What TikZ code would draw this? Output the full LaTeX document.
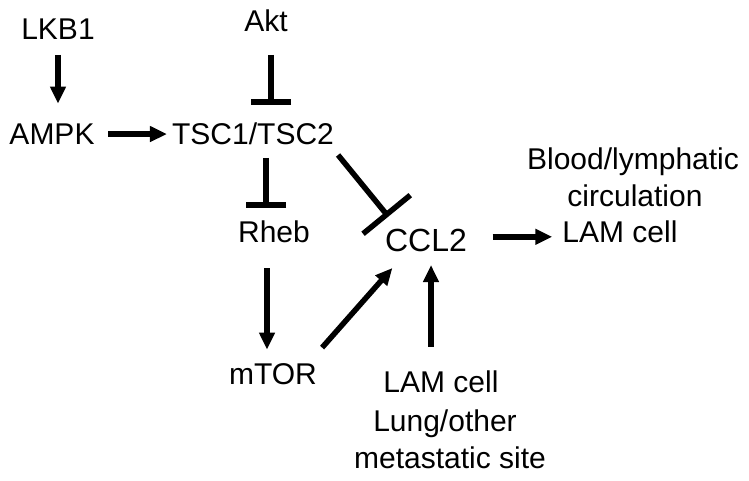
\documentclass[tikz,border=0pt]{standalone}
\usepackage{fontspec}
\setmainfont{Liberation Sans}
\usetikzlibrary{arrows.meta,calc}
\begin{document}
\begin{tikzpicture}[x=1pt,y=-1pt,
  lbl/.style={inner sep=0pt, anchor=south, text height=21.5pt, text depth=0pt, font=\fontsize{30}{36}\selectfont},
  big/.style={inner sep=0pt, anchor=south, text height=23pt, text depth=0pt, font=\fontsize{32}{38}\selectfont},
  act/.style={line width=5.5pt, -{Triangle[length=17pt,width=15pt]}},
  inh/.style={line width=5.5pt, -{Bar[width=40pt]}},
  inhw/.style={line width=5.5pt, -{Bar[width=61pt]}}]
\useasboundingbox (0,0) rectangle (749,481);
\node[lbl] (lkb1) at (58,40) {LKB1};
\node[lbl] (akt) at (266,32) {Akt};
\node[lbl] (ampk) at (52,145) {AMPK};
\node[lbl] (tsc) at (253,145) {TSC1/TSC2};
\node[lbl] (rheb) at (274,243) {Rheb};
\node[lbl] (mtor) at (273,385) {mTOR};
\node[big] (ccl2) at (426,252) {CCL2};
\node[lbl] (r1) at (633,170) {Blood/lymphatic};
\node[lbl] (r2) at (635,207) {circulation};
\node[lbl] (r3) at (620,243) {LAM cell};
\node[lbl] (b1) at (441,393) {LAM cell};
\node[lbl] (b2) at (445,432) {Lung/other};
\node[lbl] (b3) at (450,469) {metastatic site};
% LKB1 -> AMPK
\draw[act, shorten <=15pt, shorten >=19.5pt] (lkb1.south) -- (lkb1.south |- ampk.north);
% Akt -| TSC
\coordinate (at) at ([xshift=5pt]akt.south);
\draw[inh, shorten <=23pt, shorten >=18.5pt] (at) -- (at |- tsc.north);
% AMPK -> TSC
\draw[act, shorten <=13.5pt, shorten >=5pt] (ampk.east) -- (tsc.west);
% TSC -| Rheb
\coordinate (rt) at ([xshift=-8pt]rheb.north);
\draw[inh, shorten <=13pt, shorten >=13.5pt] (rt |- tsc.south) -- (rt);
% Rheb -> mTOR
\coordinate (rb) at ([xshift=-7pt]rheb.south);
\draw[act, shorten <=25pt, shorten >=13.5pt] (rb) -- (rb |- mtor.north);
% mTOR -> CCL2
\draw[act] ($(mtor.north east)+(5,-15.5)$) -- ($(ccl2.south west)+(7.5,16)$);
% TSC -| CCL2
\draw[inhw] ($(tsc.south east)+(4,10)$) -- ($(ccl2.north west)+(3.5,-12)$);
% CCL2 -> LAM cell (circulation)
\coordinate (ce) at ($(ccl2.east)+(0,-3.5)$);
\draw[act, shorten <=25.5pt, shorten >=10pt] (ce) -- (ce -| r3.west);
% LAM cell (lung) -> CCL2
\coordinate (bt) at ([xshift=-10pt]b1.north);
\draw[act, shorten <=24.5pt, shorten >=13pt] (bt) -- (bt |- ccl2.south);
\end{tikzpicture}
\end{document}
